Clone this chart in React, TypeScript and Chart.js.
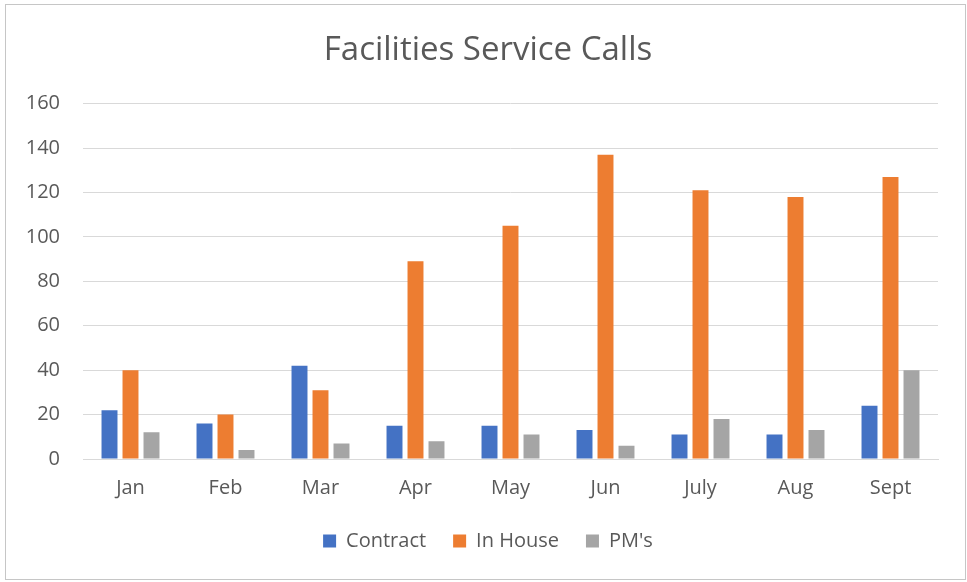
import React, { useEffect, useRef } from "react";
import { Chart, registerables } from "chart.js";

Chart.register(...registerables);

const categories = ["Jan", "Feb", "Mar", "Apr", "May", "Jun", "July", "Aug", "Sept"];
const contract = [22, 16, 42, 15, 15, 13, 11, 11, 24];
const inHouse = [40, 20, 31, 89, 105, 137, 121, 118, 127];
const pms = [12, 4, 7, 8, 11, 6, 18, 13, 40];
const yTicks = [0, 20, 40, 60, 80, 100, 120, 140, 160];

const FONT = "'Open Sans', 'Liberation Sans', sans-serif";
const TEXT = "#595959";

const shiftCenter = {
  id: "shiftCenter",
  afterLayout(chart: any) {
    if (chart.legend) chart.legend.left += 32;
    if (chart.titleBlock) chart.titleBlock.left += 32;
  },
};

export default function App() {
  const ref = useRef<HTMLCanvasElement | null>(null);

  useEffect(() => {
    if (!ref.current) return;
    const chart = new Chart(ref.current, {
      type: "bar",
      data: {
        labels: categories,
        datasets: [
          { label: "Contract", data: contract, backgroundColor: "#4472C4" },
          { label: "In House", data: inHouse, backgroundColor: "#ED7D31" },
          { label: "PM's", data: pms, backgroundColor: "#A5A5A5" },
        ],
      },
      plugins: [shiftCenter],
      options: {
        responsive: false,
        animation: false,
        layout: { padding: { left: 0, right: 27, top: 0, bottom: 18 } },
        datasets: {
          bar: { categoryPercentage: 0.663, barPercentage: 0.76 },
        },
        plugins: {
          title: {
            display: true,
            text: "Facilities Service Calls",
            color: TEXT,
            font: { family: FONT, size: 33, weight: "normal" },
            padding: { top: 26, bottom: 33 },
          },
          legend: {
            position: "bottom",
            labels: {
              color: TEXT,
              font: { family: FONT, size: 20 },
              boxWidth: 13,
              boxHeight: 13,
              padding: 27,
            },
          },
          tooltip: { enabled: false },
        },
        scales: {
          x: {
            grid: { display: false, drawTicks: false },
            border: { display: true, color: "#d9d9d9" },
            ticks: { color: TEXT, font: { family: FONT, size: 20 }, padding: 17 },
            afterFit: (scale: any) => {
              scale.height = scale.height - 13;
            },
          },
          y: {
            min: 0,
            max: 160,
            afterBuildTicks: (scale: any) => {
              scale.ticks = yTicks.map((v) => ({ value: v }));
            },
            afterFit: (scale: any) => {
              scale.width = 77;
            },
            grid: { color: "#d9d9d9", drawTicks: false },
            border: { display: false },
            ticks: { color: TEXT, font: { family: FONT, size: 20 }, padding: 23 },
          },
        },
      },
    });
    return () => chart.destroy();
  }, []);

  return (
    <div
      style={{
        position: "absolute",
        left: 5,
        top: 4,
        width: 961,
        height: 576,
        border: "1px solid #c6c6c6",
        boxSizing: "border-box",
        background: "#fff",
      }}
    >
      <canvas ref={ref} width={959} height={574} style={{ display: "block" }} />
    </div>
  );
}
